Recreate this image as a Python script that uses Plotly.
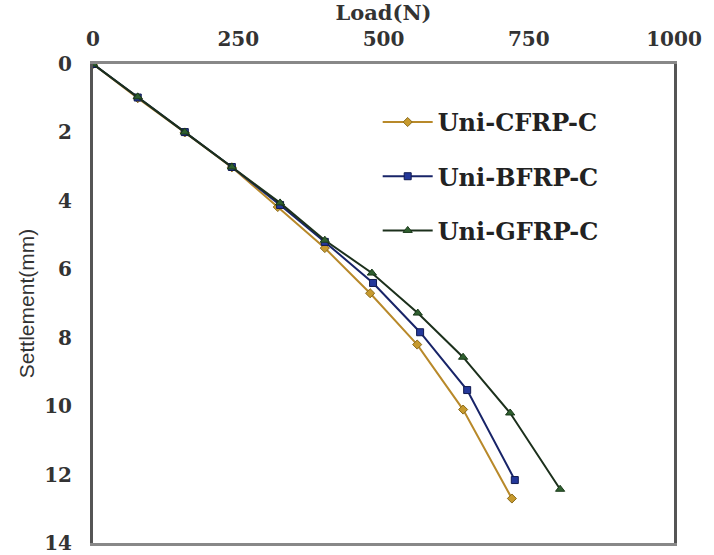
import plotly.graph_objects as go

series_names = ["Uni-CFRP-C", "Uni-BFRP-C", "Uni-GFRP-C"]

cfrp_load = [0, 77, 158, 239, 318, 399, 477, 558, 637, 721]
cfrp_settle = [0, 1.0, 2.0, 3.02, 4.18, 5.38, 6.7, 8.2, 10.1, 12.7]

bfrp_load = [0, 77, 158, 239, 322, 399, 482, 563, 644, 726]
bfrp_settle = [0, 0.98, 1.99, 3.01, 4.12, 5.2, 6.4, 7.84, 9.53, 12.16]

gfrp_load = [0, 77, 158, 239, 322, 399, 480, 559, 637, 718, 804]
gfrp_settle = [0, 0.96, 1.99, 3.01, 4.06, 5.15, 6.11, 7.28, 8.57, 10.2, 12.43]

x_ticks = [0, 250, 500, 750, 1000]
y_ticks = [0, 2, 4, 6, 8, 10, 12, 14]

serif = "DejaVu Serif, Liberation Serif, serif"

fig = go.Figure()
fig.add_trace(go.Scatter(
    x=cfrp_load, y=cfrp_settle, name=series_names[0], mode="lines+markers",
    legendgroup="a",
    line=dict(color="#b8892a", width=2),
    marker=dict(symbol="diamond", size=7, color="#c79a2e", line=dict(color="#8a6a1a", width=1)),
))
fig.add_trace(go.Scatter(
    x=bfrp_load, y=bfrp_settle, name=series_names[1], mode="lines+markers",
    legendgroup="b",
    line=dict(color="#182468", width=2),
    marker=dict(symbol="square", size=7, color="#24389a", line=dict(color="#101a50", width=1)),
))
fig.add_trace(go.Scatter(
    x=gfrp_load, y=gfrp_settle, name=series_names[2], mode="lines+markers",
    legendgroup="c",
    line=dict(color="#1c301c", width=2),
    marker=dict(symbol="triangle-up", size=8, color="#2f5f2f", line=dict(color="#1a3a1a", width=1)),
))

fig.update_layout(
    width=714, height=555,
    margin=dict(l=93, r=40, t=64, b=12, autoexpand=False),
    paper_bgcolor="white", plot_bgcolor="white",
    showlegend=True,
    legend=dict(
        x=0.49, y=0.925, xanchor="left", yanchor="top",
        font=dict(family=serif, size=24, color="#222", weight="bold"),
        bgcolor="rgba(0,0,0,0)", borderwidth=0,
        itemwidth=50, tracegroupgap=20, traceorder="grouped",
    ),
    xaxis=dict(
        side="top", range=[0, 1000], tickvals=x_ticks,
        ticktext=[str(v) for v in x_ticks],
        showgrid=False, zeroline=False, ticks="", automargin=False,
        showline=True, linecolor="#888", linewidth=3, mirror=True,
        tickfont=dict(family=serif, size=20, color="#333", weight="bold"),
        ticklabelstandoff=7,
        title=dict(text="Load(N)", font=dict(family=serif, size=21, color="#333", weight="bold"), standoff=1),
    ),
    yaxis=dict(
        range=[14, 0], tickvals=y_ticks,
        ticktext=[str(v) for v in y_ticks],
        showgrid=False, zeroline=False, ticks="", automargin=False,
        showline=True, linecolor="#555", linewidth=3, mirror=True,
        tickfont=dict(family=serif, size=20, color="#333", weight="bold"),
        ticklabelstandoff=14,
        title=dict(text="Settlement(mm)",
                   font=dict(family="Liberation Sans Narrow, Liberation Sans, Arial, sans-serif", size=21, color="#333"),
                   standoff=4),
    ),
)

fig.write_html("out.html", config={"displayModeBar": False},
               post_script="document.body.style.margin='0';")
